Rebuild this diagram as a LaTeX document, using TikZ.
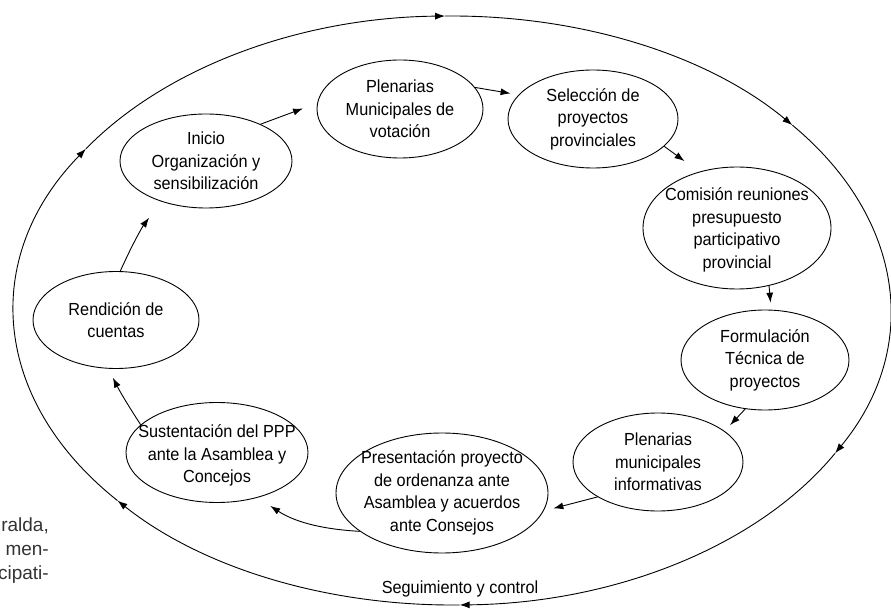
\documentclass[tikz,border=0pt]{standalone}
\usepackage{fontspec}
\setmainfont{Liberation Sans}[FakeStretch=0.93]
\newfontfamily\marginfont{Liberation Sans}
\usetikzlibrary{shapes.geometric,arrows.meta,calc}

\begin{document}
\begin{tikzpicture}[x=1pt,y=-1pt,
  stage/.style={draw, ellipse, line width=0.9pt, inner sep=0pt},
  caption/.style={align=center, inner sep=0pt, font=\fontsize{17.5}{22.5}\selectfont},
  flow/.style={line width=0.9pt, -{Latex[length=10pt,width=7pt]}},
]
\useasboundingbox (0,0) rectangle (891,609);

% outer cycle: "Seguimiento y control"
\coordinate (cyc) at (452,310.5);
\foreach \a/\b in {213.3/269.1, 269.1/321, 321/389, 389/449, 449/499.8, 499.8/573.3}
  \draw[flow] ($(cyc)+(\a:438 and 294.5)$)
    arc[start angle=\a, end angle=\b, x radius=438, y radius=294.5];
\node[caption, anchor=base] (seg) at (460,593) {Seguimiento y control};

% stages of the cycle
\node[stage, minimum width=166pt, minimum height=97pt]  (rend) at (116,320) {};
\node[caption] (rend-t) at (rend) {Rendición de\\cuentas};

\node[stage, minimum width=172pt, minimum height=94pt]  (ini) at (206,161) {};
\node[caption] (ini-t) at (ini) {Inicio\\Organización y\\sensibilización};

\node[stage, minimum width=166pt, minimum height=98pt]  (plen) at (400,109) {};
\node[caption] (plen-t) at (plen) {Plenarias\\Municipales de\\votación};

\node[stage, minimum width=170pt, minimum height=98pt]  (sel) at (593,119) {};
\node[caption] (sel-t) at (sel) {Selección de\\proyectos\\provinciales};

\node[stage, minimum width=188pt, minimum height=122pt] (com) at (737,228) {};
\node[caption] (com-t) at ([yshift=-2pt]com.center) {Comisión reuniones\\presupuesto\\participativo\\provincial};

\node[stage, minimum width=168pt, minimum height=100pt] (form) at (765,360) {};
\node[caption] (form-t) at (form) {Formulación\\Técnica de\\proyectos};

\node[stage, minimum width=170pt, minimum height=98pt]  (pinf) at (658,462) {};
\node[caption] (pinf-t) at (pinf) {Plenarias\\municipales\\informativas};

\node[stage, minimum width=212pt, minimum height=120pt] (pres) at (442,493) {};
\node[caption] (pres-t) at (pres) {Presentación proyecto\\de ordenanza ante\\Asamblea y acuerdos\\ante Consejos};

\node[stage, minimum width=182pt, minimum height=100pt] (sust) at (217,452.5) {};
\node[caption] (sust-t) at ([yshift=-3pt]sust.center) {Sustentación del PPP\\ante la Asamblea y\\Concejos};

% arrows between stages
\draw[flow, shorten >=20pt] (rend.85)  to[bend left=6]  (ini.222);
\draw[flow, shorten >=15pt] (ini.34)   -- (plen.176);
\draw[flow, shorten >=8pt]  (plen.16)  -- (sel.162);
\draw[flow, shorten >=18pt] (sel.-21)  -- (com.124);
\draw[flow, shorten >=7pt]  (com.-61)  -- (form.83);
\draw[flow, shorten >=8pt]  (form.248) -- (pinf.25);
\draw[flow, shorten >=10pt] (pinf.210) -- (pres.-10);
\draw[flow, shorten >=15pt] (pres.205) to[bend left=15] (sust.-48);
\draw[flow, shorten >=10pt] (sust.160) to[bend left=3]  (rend.261);

% running text of the page beside the figure
\node[align=right, anchor=east, inner sep=0pt, text=black!80,
      font=\marginfont\fontsize{19}{24}\selectfont] (margin) at (49,551) {ralda,\\men-\\cipati-};
\end{tikzpicture}
\end{document}
